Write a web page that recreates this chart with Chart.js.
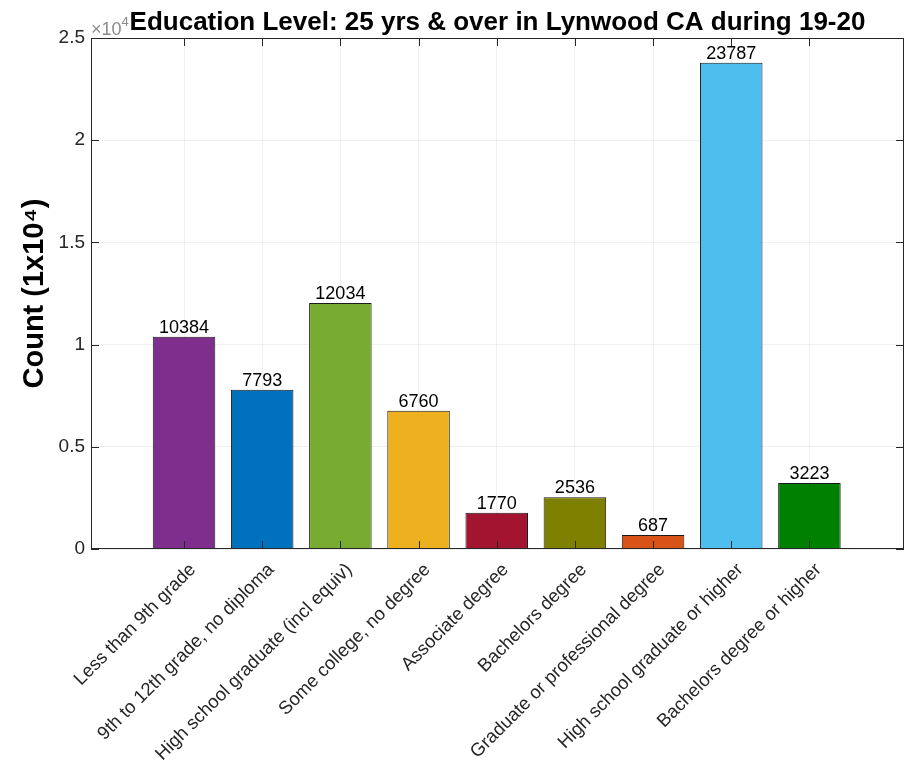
<!DOCTYPE html>
<html>
<head>
<meta charset="utf-8">
<script src="https://cdn.jsdelivr.net/npm/chart.js@4/dist/chart.umd.min.js"></script>
<style>
  html, body { margin: 0; padding: 0; background: #fff; }
  #wrap { width: 911px; height: 776px; }
</style>
</head>
<body>
<div id="wrap"><canvas id="eduChart"></canvas></div>
<script>
const categories = [
  'Less than 9th grade',
  '9th to 12th grade, no diploma',
  'High school graduate (incl equiv)',
  'Some college, no degree',
  'Associate degree',
  'Bachelors degree',
  'Graduate or professional degree',
  'High school graduate or higher',
  'Bachelors degree or higher'
];
const counts = [10384, 7793, 12034, 6760, 1770, 2536, 687, 23787, 3223];
const barColors = ['#7E2F8E', '#0072BD', '#77AC30', '#EDB120', '#A2142F', '#808000', '#D95319', '#4DBEEE', '#008000'];
const yTickValues = [0, 5000, 10000, 15000, 20000, 25000];
const yTickLabels = ['0', '0.5', '1', '1.5', '2', '2.5'];

const FONT = '"Liberation Sans", Arial, Helvetica, sans-serif';
const AXIS_COLOR = '#262626';

// MATLAB-like box, inner ticks, value labels, exponent and title
const matlabAxes = {
  id: 'matlabAxes',
  afterDatasetsDraw(chart) {
    const { ctx, chartArea: a, scales: { x, y } } = chart;
    ctx.save();

    // values over bars
    ctx.font = '18px ' + FONT;
    ctx.fillStyle = '#000';
    ctx.textAlign = 'center';
    ctx.textBaseline = 'alphabetic';
    chart.getDatasetMeta(0).data.forEach((bar, i) => {
      ctx.fillText(String(counts[i]), bar.x, bar.y - 4);
    });

    // box
    ctx.strokeStyle = AXIS_COLOR;
    ctx.lineWidth = 1;
    ctx.strokeRect(a.left + 0.5, a.top + 0.5, a.right - a.left - 1, a.bottom - a.top - 1);

    // inner ticks
    const len = 8;
    ctx.beginPath();
    x.ticks.forEach(t => {
      const px = Math.round(x.getPixelForValue(t.value)) + 0.5;
      ctx.moveTo(px, a.bottom); ctx.lineTo(px, a.bottom - len);
      ctx.moveTo(px, a.top); ctx.lineTo(px, a.top + len);
    });
    y.ticks.forEach(t => {
      const py = Math.round(y.getPixelForValue(t.value)) + 0.5;
      ctx.moveTo(a.left, py); ctx.lineTo(a.left + len, py);
      ctx.moveTo(a.right, py); ctx.lineTo(a.right - len, py);
    });
    ctx.stroke();

    // exponent label
    ctx.fillStyle = '#8a8a8a';
    ctx.textAlign = 'left';
    ctx.textBaseline = 'alphabetic';
    ctx.font = '18px ' + FONT;
    ctx.fillText('\u00d710', a.left, a.top - 3);
    const w = ctx.measureText('\u00d710').width;
    ctx.font = '13px ' + FONT;
    ctx.fillText('4', a.left + w, a.top - 12);

    // title
    ctx.fillStyle = '#000';
    ctx.textAlign = 'center';
    ctx.font = 'bold 26px ' + FONT;
    ctx.fillText('Education Level: 25 yrs & over in Lynwood CA during 19-20', (a.left + a.right) / 2, a.top - 8);

    ctx.restore();
  }
};

new Chart(document.getElementById('eduChart'), {
  type: 'bar',
  data: {
    datasets: [{
      data: counts.map((v, i) => ({ x: i + 1, y: v })),
      backgroundColor: barColors,
      borderColor: '#1a1a1a',
      borderWidth: 1,
      barPercentage: 0.8,
      categoryPercentage: 1.0
    }]
  },
  options: {
    responsive: true,
    maintainAspectRatio: false,
    animation: false,
    layout: { padding: { top: 38, right: 7, left: 0, bottom: 0 } },
    plugins: {
      legend: { display: false },
      tooltip: { enabled: false },
      title: { display: false }
    },
    scales: {
      x: {
        type: 'linear',
        min: -0.19,
        max: 10.21,
        offset: false,
        grid: { offset: false, color: 'rgba(0,0,0,0.06)', drawTicks: false },
        border: { display: false },
        afterBuildTicks: scale => { scale.ticks = categories.map((_, i) => ({ value: i + 1 })); },
        afterFit: scale => { scale.height = 227; },
        ticks: {
          autoSkip: false,
          minRotation: 45,
          maxRotation: 45,
          padding: 10,
          labelOffset: 9,
          color: AXIS_COLOR,
          font: { family: FONT, size: 18.5 },
          callback: v => categories[v - 1]
        }
      },
      y: {
        min: 0,
        max: 25000,
        grid: { color: 'rgba(0,0,0,0.06)', drawTicks: false },
        border: { display: false },
        afterBuildTicks: scale => { scale.ticks = yTickValues.map(v => ({ value: v })); },
        afterFit: scale => { scale.width = 91; },
        ticks: {
          padding: 6,
          color: AXIS_COLOR,
          font: { family: FONT, size: 19 },
          callback: (v) => yTickLabels[yTickValues.indexOf(v)]
        },
        title: {
          display: true,
          text: 'Count (1x10\u2074)',
          color: '#000',
          font: { family: FONT, size: 29, weight: 'bold' },
          padding: { top: 18, bottom: 0 }
        }
      }
    }
  },
  plugins: [matlabAxes]
});
</script>
</body>
</html>
